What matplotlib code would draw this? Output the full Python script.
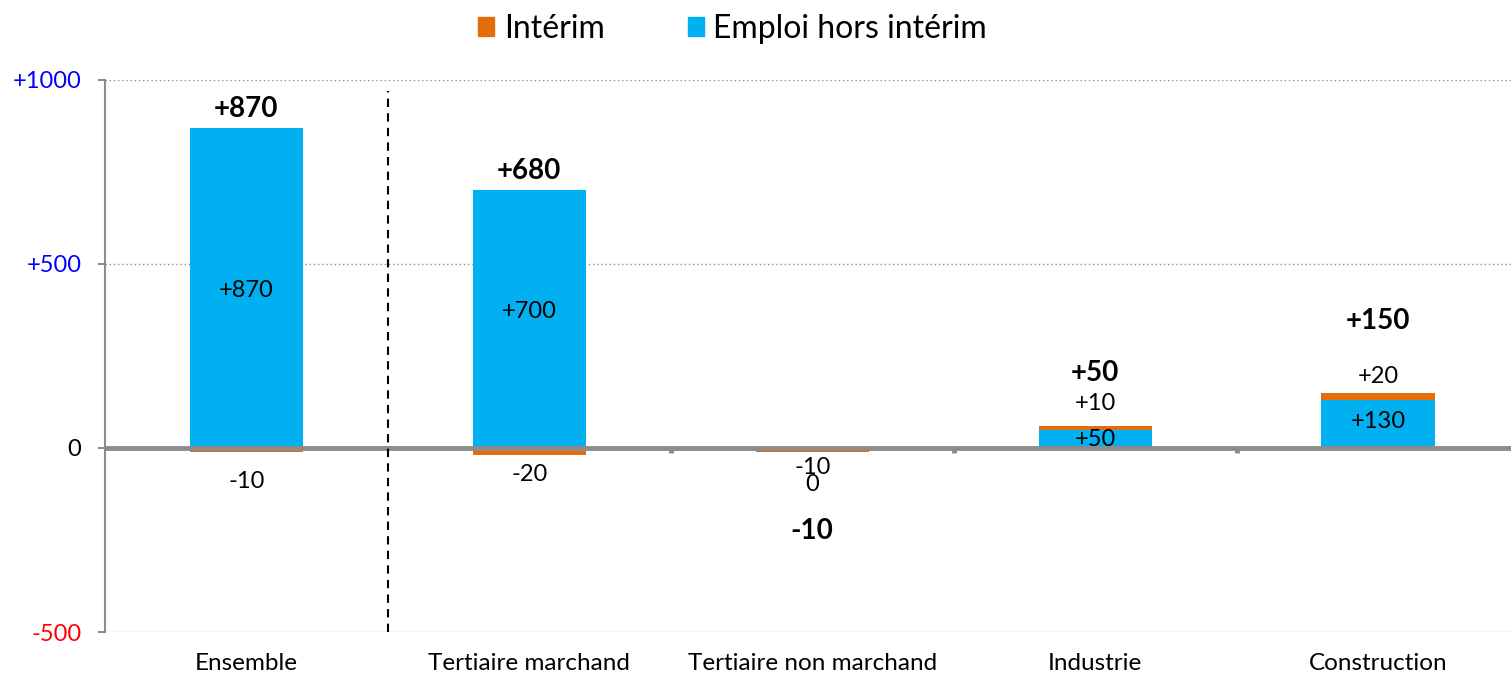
import matplotlib.pyplot as plt
from matplotlib.patches import Patch
import numpy as np

plt.rcParams['font.family'] = ['Lato', 'DejaVu Sans']

# data
categories = ["Ensemble", "Tertiaire marchand", "Tertiaire non marchand", "Industrie", "Construction"]
interim = [-10, -20, -10, 10, 20]
hors_interim = [870, 700, 0, 50, 130]
totals = ["+870", "+680", "-10", "+50", "+150"]
interim_labels = ["-10", "-20", "-10", "+10", "+20"]
hors_labels = ["+870", "+700", "0", "+50", "+130"]

# label positions (data units)
total_y = [921, 753, -225, 204, 345]
interim_y = [-92, -71, -54, 120, 193]
hors_y = [427, 370, -98, 24, 71]

orange = "#E46C0A"
blue = "#00B0F0"
grey = "#8C8C8C"

fig = plt.figure(figsize=(15.11, 6.76), dpi=100)
ax = fig.add_axes([0.0695, 0.065, 0.9305, 0.817])

x = np.arange(len(categories))
w = 0.4
ax.bar(x, hors_interim, w, color=blue, zorder=2)
bottoms = [h if i * h > 0 else 0 for i, h in zip(interim, hors_interim)]
ax.bar(x, interim, w, bottom=bottoms, color=orange, zorder=2)

for xi, t, ty in zip(x, totals, total_y):
    ax.text(xi, ty, t, ha="center", va="center", fontsize=20, fontweight="bold", zorder=4)
for xi, t, ty in zip(x, interim_labels, interim_y):
    ax.text(xi, ty, t, ha="center", va="center", fontsize=17, zorder=4)
for xi, t, ty in zip(x, hors_labels, hors_y):
    ax.text(xi, ty, t, ha="center", va="center", fontsize=17, zorder=4)

ax.set_ylim(-500, 1000)
ax.set_xlim(-0.5, 4.47)

# gridlines
for g in [1000, 500, -500]:
    ax.axhline(g, color=grey, lw=1, ls=(0, (1, 2)), zorder=1)
ax.axhline(0, color=grey, lw=3.5, zorder=3)
ax.vlines([1.5, 2.5, 3.5], -14, 0, color=grey, lw=3.5, zorder=3)
ax.vlines(0.5, -500, 970, color="black", lw=1.5, ls=(0, (4, 3)), zorder=3)

ax.set_yticks([1000, 500, 0, -500])
ax.set_yticklabels(["+1000", "+500", "0", "-500"], fontsize=17)
for lbl, c in zip(ax.get_yticklabels(), ["blue", "blue", "black", "red"]):
    lbl.set_color(c)
ax.tick_params(axis="y", length=5, color=grey, width=1.5, pad=12)

ax.set_xticks(x)
ax.set_xticklabels(categories, fontsize=17.5)
ax.tick_params(axis="x", length=0, pad=15)

for s in ["top", "right", "bottom"]:
    ax.spines[s].set_visible(False)
ax.spines["left"].set_color(grey)
ax.spines["left"].set_linewidth(1.5)

handles = [Patch(color=orange, label="Intérim"), Patch(color=blue, label="Emploi hors intérim")]
fig.legend(handles=handles, loc="upper center", bbox_to_anchor=(0.485, 1.022), ncol=2,
           frameon=False, fontsize=23, handlelength=0.5, handleheight=0.5,
           handletextpad=0.3, columnspacing=2.6)

fig.savefig("out.png", dpi=100)
